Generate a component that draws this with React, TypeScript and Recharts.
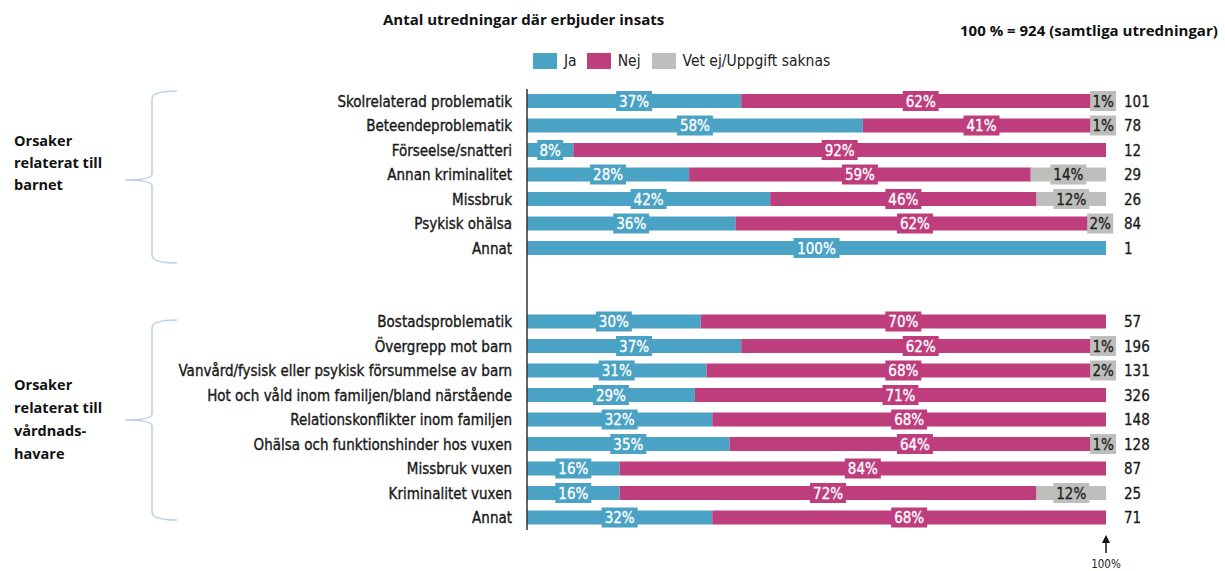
import { BarChart, Bar, XAxis, YAxis, Legend, LabelList } from 'recharts';

const categories = [
  'Skolrelaterad problematik',
  'Beteendeproblematik',
  'Förseelse/snatteri',
  'Annan kriminalitet',
  'Missbruk',
  'Psykisk ohälsa',
  'Annat',
  '',
  '',
  'Bostadsproblematik',
  'Övergrepp mot barn',
  'Vanvård/fysisk eller psykisk försummelse av barn',
  'Hot och våld inom familjen/bland närstående',
  'Relationskonflikter inom familjen',
  'Ohälsa och funktionshinder hos vuxen',
  'Missbruk vuxen',
  'Kriminalitet vuxen',
  'Annat',
];
const ja = [37, 58, 8, 28, 42, 36, 100, 0, 0, 30, 37, 31, 29, 32, 35, 16, 16, 32];
const nej = [62, 41, 92, 59, 46, 62, 0, 0, 0, 70, 62, 68, 71, 68, 64, 84, 72, 68];
const vetEj = [1, 1, 0, 14, 12, 2, 0, 0, 0, 0, 1, 2, 1, 0, 1, 0, 12, 0];
const counts = ['101', '78', '12', '29', '26', '84', '1', '', '', '57', '196', '131', '326', '148', '128', '87', '25', '71'];

const BLUE = '#4aa2c4';
const PINK = '#bd3d7d';
const GREY = '#bebebc';
const NARROW = '"Liberation Sans Narrow", "DejaVu Sans Condensed", "Roboto", sans-serif';
const BOLD = '"Open Sans", "Lato", sans-serif';

const data = categories.map((name, i) => ({
  name,
  ja: ja[i],
  nej: nej[i],
  vetEj: vetEj[i],
}));

function makeLabel(fill: string, textColor: string) {
  return (props: any) => {
    const { x, y, width, height, value } = props;
    if (!value) return null;
    const text = `${value}%`;
    const w = text.length * 10 + 6;
    const cx = x + width / 2;
    const cy = y + height / 2;
    return (
      <g>
        <rect x={cx - w / 2} y={cy - 10} width={w} height={20} fill={fill} />
        <text
          x={cx}
          y={cy + 5.5}
          textAnchor="middle"
          fill={textColor}
          stroke={textColor}
          strokeWidth={0.3}
          fontFamily={NARROW}
          fontSize={15}
        >
          {text}
        </text>
      </g>
    );
  };
}

const legendItems = [
  { label: 'Ja', color: BLUE, gap: 10 },
  { label: 'Nej', color: PINK, gap: 11 },
  { label: 'Vet ej/Uppgift saknas', color: GREY, gap: 0 },
];

function renderLegend() {
  return (
    <div style={{ display: 'flex', alignItems: 'center', fontFamily: NARROW, fontSize: 15.5, color: '#222' }}>
      {legendItems.map((it) => (
        <div key={it.label} style={{ display: 'flex', alignItems: 'center', marginRight: it.gap }}>
          <span style={{ display: 'inline-block', width: 24, height: 16, background: it.color, marginRight: 7 }} />
          <span>{it.label}</span>
        </div>
      ))}
    </div>
  );
}

function Brace({ top, bottom, tip }: { top: number; bottom: number; tip: number }) {
  const x = 152;
  const d = `M177 ${top} Q152 ${top} ${x} ${top + 8} L${x} ${tip - 6} Q${x} ${tip} 125 ${tip}
    M125 ${tip} Q${x} ${tip} ${x} ${tip + 6} L${x} ${bottom - 8} Q${x} ${bottom} 177 ${bottom}`;
  return <path d={d} fill="none" stroke="#bcd3e6" strokeWidth={1.6} />;
}

export default function App() {
  return (
    <div style={{ position: 'absolute', left: 0, top: 0, width: 1225, height: 571, background: '#fff' }}>
      <BarChart
        width={1225}
        height={571}
        data={data}
        layout="vertical"
        barSize={14}
        margin={{ top: 89, right: 59, bottom: 41, left: 127 }}
      >
        <XAxis type="number" domain={[0, 100]} allowDataOverflow hide />
        <YAxis
          yAxisId="left"
          type="category"
          dataKey="name"
          width={400}
          interval={0}
          tickLine={false}
          axisLine={{ stroke: '#333', strokeWidth: 1.5 }}
          tickMargin={9}
          tick={{ fontFamily: NARROW, fontSize: 15, fill: '#1a1a1a', stroke: '#1a1a1a', strokeWidth: 0.35 }}
        />
        <YAxis
          yAxisId="right"
          orientation="right"
          type="category"
          dataKey="name"
          width={60}
          interval={0}
          tickLine={false}
          axisLine={false}
          tickMargin={12}
          tickFormatter={(_v: any, i: number) => counts[i]}
          tick={{ fontFamily: NARROW, fontSize: 15, fill: '#1a1a1a', stroke: '#1a1a1a', strokeWidth: 0.3, textAnchor: 'start' }}
        />
        <Legend
          layout="horizontal"
          verticalAlign="middle"
          content={renderLegend}
          wrapperStyle={{ position: 'absolute', top: 52, left: 533, width: 420 }}
        />
        <Bar yAxisId="left" dataKey="ja" name="Ja" stackId="a" fill={BLUE} isAnimationActive={false}>
          <LabelList dataKey="ja" content={makeLabel(BLUE, '#fff')} />
        </Bar>
        <Bar yAxisId="left" dataKey="nej" name="Nej" stackId="a" fill={PINK} isAnimationActive={false}>
          <LabelList dataKey="nej" content={makeLabel(PINK, '#fff')} />
        </Bar>
        <Bar yAxisId="left" dataKey="vetEj" name="Vet ej/Uppgift saknas" stackId="a" fill={GREY} isAnimationActive={false}>
          <LabelList dataKey="vetEj" content={makeLabel(GREY, '#222')} />
        </Bar>
      </BarChart>

      <svg
        width={1225}
        height={571}
        style={{ position: 'absolute', left: 0, top: 0, pointerEvents: 'none' }}
      >
        <text x={383} y={25} fontFamily={BOLD} fontWeight={700} fontSize={15} fill="#111">
          Antal utredningar där erbjuder insats
        </text>
        <text x={960} y={36} fontFamily={BOLD} fontWeight={700} fontSize={15} fill="#111">
          100 % = 924 (samtliga utredningar)
        </text>
        <Brace top={91} bottom={263} tip={180} />
        <Brace top={320} bottom={520} tip={420} />
        <text fontFamily={BOLD} fontWeight={700} fontSize={14.5} fill="#111">
          <tspan x={14} y={146}>Orsaker</tspan>
          <tspan x={14} y={168}>relaterat till</tspan>
          <tspan x={14} y={190}>barnet</tspan>
        </text>
        <text fontFamily={BOLD} fontWeight={700} fontSize={14.5} fill="#111">
          <tspan x={14} y={390}>Orsaker</tspan>
          <tspan x={14} y={413}>relaterat till</tspan>
          <tspan x={14} y={436}>vårdnads-</tspan>
          <tspan x={14} y={459}>havare</tspan>
        </text>
        <line x1={1106} y1={553} x2={1106} y2={541} stroke="#111" strokeWidth={1.5} />
        <path d="M1102 543 L1106 535 L1110 543 Z" fill="#111" />
        <text x={1106} y={568} textAnchor="middle" fontFamily={NARROW} fontSize={11.5} fill="#222">
          100%
        </text>
      </svg>
    </div>
  );
}
